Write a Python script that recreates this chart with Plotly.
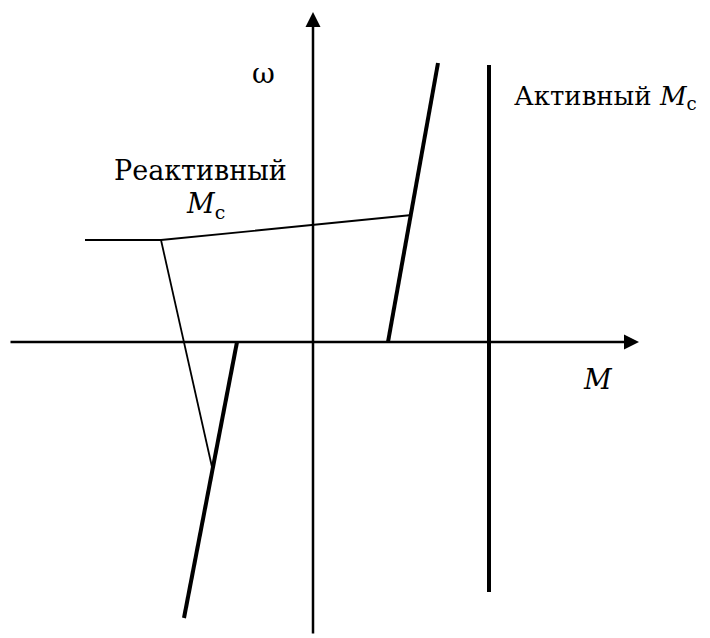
import plotly.graph_objects as go

# --- data (M, omega) in chart units, origin at the axes crossing ---
axis_m_range = [-3.04, 3.26]      # horizontal axis extent (M)
axis_w_range = [-2.93, 3.30]      # vertical axis extent (omega)

active_m = [1.76, 1.76]
active_w = [-2.50, 2.77]

motor_pos_m = [0.75, 1.25]
motor_pos_w = [0.00, 2.79]

motor_neg_m = [-0.76, -1.29]
motor_neg_w = [0.00, -2.76]

reactive_m = [-2.28, -1.52, 0.99]
reactive_w = [1.02, 1.02, 1.27]

reactive_low_m = [-1.52, -1.01]
reactive_low_w = [1.02, -1.25]

labels = {
    "omega": "ω",
    "M": "<i>M</i>",
    "active": "Активный <i>M</i><sub>c</sub>",
    "reactive1": "Реактивный",
    "reactive2": "<i>M</i><sub>c</sub>",
}

FONT = "DejaVu Serif"
BLACK = "black"

fig = go.Figure()

def seg(xs, ys, w):
    fig.add_trace(go.Scatter(x=xs, y=ys, mode="lines",
                             line=dict(color=BLACK, width=w),
                             hoverinfo="skip", showlegend=False))

seg(active_m, active_w, 4)
seg(motor_pos_m, motor_pos_w, 4)
seg(motor_neg_m, motor_neg_w, 4)
seg(reactive_m, reactive_w, 1.8)
seg(reactive_low_m, reactive_low_w, 1.8)

# axes with arrows
fig.add_annotation(x=axis_m_range[1], y=0, ax=axis_m_range[0], ay=0,
                   xref="x", yref="y", axref="x", ayref="y", text="",
                   showarrow=True, arrowhead=2, arrowsize=1.2, arrowwidth=2.5,
                   arrowcolor=BLACK, standoff=0)
fig.add_annotation(x=0, y=axis_w_range[1], ax=0, ay=axis_w_range[0],
                   xref="x", yref="y", axref="x", ayref="y", text="",
                   showarrow=True, arrowhead=2, arrowsize=1.2, arrowwidth=2.5,
                   arrowcolor=BLACK, standoff=0)

def label(text, x, y, size, anchor="center"):
    fig.add_annotation(x=x, y=y, xref="x", yref="y", text=text, showarrow=False,
                       xanchor=anchor, yanchor="middle",
                       font=dict(family=FONT, size=size, color=BLACK))

label(labels["omega"], -0.50, 2.69, 28)
label(labels["M"], 2.85, -0.37, 27)
label(labels["active"], 1.99, 2.45, 26, anchor="left")
label(labels["reactive1"], -1.13, 1.72, 27)
label(labels["reactive2"], -1.08, 1.37, 27)

# page body has an 8px margin: figure spans window pixels 8..710 x 8..638
fig.update_layout(
    width=702, height=630,
    margin=dict(l=0, r=0, t=0, b=0),
    paper_bgcolor="white", plot_bgcolor="white",
    font=dict(family=FONT, color=BLACK),
    xaxis=dict(range=[-3.05, 3.97], visible=False, fixedrange=True),
    yaxis=dict(range=[-2.96, 3.34], visible=False, fixedrange=True),
    showlegend=False,
)

fig.write_html("out.html")
